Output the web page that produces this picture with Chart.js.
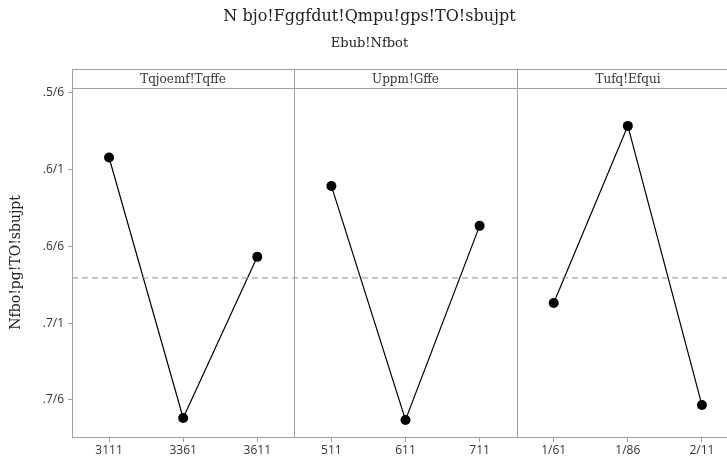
<!DOCTYPE html>
<html>
<head>
<meta charset="utf-8">
<script src="https://cdn.jsdelivr.net/npm/chart.js@4"></script>
<style>
  html, body { margin: 0; padding: 0; overflow: hidden; background: #fff; }
  #wrap { width: 745px; height: 461px; }
</style>
</head>
<body>
<div id="wrap"><canvas id="chart" width="745" height="461"></canvas></div>
<script>
// text exactly as it appears in the picture
const titleText = 'N bjo!Fggfdut!Qmpu!gps!TO!sbujpt';
const subtitleText = 'Ebub!Nfbot';
const yTitleText = 'Nfbo!pg!TO!sbujpt';
const panelNames = ['Tqjoemf!Tqffe', 'Uppm!Gffe', 'Tufq!Efqui'];

// level labels per panel
const spindleLabels = ['3111', '3361', '3611'];
const feedLabels = ['511', '611', '711'];
const depthLabels = ['1/61', '1/86', '2/11'];

// means of SN ratios per level
const spindleMeans = [-4.921, -6.617, -5.568];
const feedMeans = [-5.106, -6.630, -5.366];
const depthMeans = [-5.868, -4.715, -6.533];
const overallMean = -5.705;

const yTickValues = [-4.5, -5.0, -5.5, -6.0, -6.5];
const yTickLabels = ['.5/6', '.6/1', '.6/6', '.7/1', '.7/6'];

const panels = [
    { labels: spindleLabels, means: spindleMeans },
    { labels: feedLabels, means: feedMeans },
    { labels: depthLabels, means: depthMeans },
];

// each panel takes 3 units on the x scale, levels sit at the middle of each unit
const xTicks = [];
const xTickText = {};
panels.forEach((p, i) => p.labels.forEach((lab, j) => {
    xTicks.push(i * 3 + j + 0.5);
    xTickText[i * 3 + j + 0.5] = lab;
}));

const GRAY = '#a0a0a0';
const STRIP = 19;

const panelStrips = {
    id: 'panelStrips',
    afterDraw(chart) {
        const { ctx, chartArea, scales } = chart;
        const xs = scales.x;
        const top = Math.round(chartArea.top) - STRIP;
        const bottom = Math.round(chartArea.bottom);
        ctx.save();
        ctx.strokeStyle = GRAY;
        ctx.lineWidth = 1;
        ctx.font = '12px "DejaVu Serif"';
        ctx.fillStyle = '#333';
        ctx.textAlign = 'center';
        ctx.textBaseline = 'middle';
        panelNames.forEach((name, i) => {
            const l = Math.round(xs.getPixelForValue(i * 3));
            const r = Math.round(xs.getPixelForValue(i * 3 + 3));
            ctx.beginPath();
            ctx.moveTo(l, top + 0.5); ctx.lineTo(r, top + 0.5);
            ctx.moveTo(l, top + STRIP + 0.5); ctx.lineTo(r, top + STRIP + 0.5);
            ctx.moveTo(l + 0.5, top); ctx.lineTo(l + 0.5, bottom);
            ctx.moveTo(r + 0.5, top); ctx.lineTo(r + 0.5, bottom);
            ctx.stroke();
            ctx.fillText(name, (l + r) / 2, top + STRIP / 2 + 1);
        });
        ctx.restore();
    }
};

const datasets = panels.map((p, i) => ({
    data: p.means.map((m, j) => ({ x: i * 3 + j + 0.5, y: m })),
    borderColor: '#000',
    backgroundColor: '#000',
    borderWidth: 1.2,
    pointRadius: 5,
    pointBorderWidth: 0,
    tension: 0,
}));
datasets.unshift({
    data: [{ x: 0, y: overallMean }, { x: 9, y: overallMean }],
    borderColor: '#8c8c8c',
    borderWidth: 1,
    borderDash: [6, 4],
    pointRadius: 0,
});

new Chart(document.getElementById('chart'), {
    type: 'line',
    data: { datasets },
    options: {
        responsive: false,
        animation: false,
        layout: { padding: { right: 6 } },
        plugins: {
            legend: { display: false },
            tooltip: { enabled: false },
            title: {
                display: true,
                text: titleText,
                color: '#222',
                font: { family: 'DejaVu Serif', size: 16, weight: 'normal' },
                padding: { top: 7, bottom: 8 },
            },
            subtitle: {
                display: true,
                text: subtitleText,
                color: '#222',
                font: { family: 'DejaVu Serif', size: 13 },
                padding: { top: 2, bottom: 36 },
            },
        },
        scales: {
            x: {
                type: 'linear',
                min: 0,
                max: 9,
                afterBuildTicks: (s) => { s.ticks = xTicks.map(v => ({ value: v })); },
                afterFit: (s) => { s.height = 24; },
                ticks: {
                    callback: (v) => xTickText[v],
                    color: '#333',
                    font: { family: 'Open Sans', size: 12 },
                    padding: 1,
                    maxRotation: 0,
                },
                grid: { drawOnChartArea: false, tickLength: 5, color: GRAY },
                border: { color: GRAY },
            },
            y: {
                min: -6.741,
                max: -4.467,
                afterBuildTicks: (s) => { s.ticks = yTickValues.map(v => ({ value: v })); },
                afterFit: (s) => { s.width = 72; },
                ticks: {
                    callback: (v) => yTickLabels[yTickValues.indexOf(v)],
                    color: '#333',
                    font: { family: 'Open Sans', size: 12 },
                    padding: 4,
                },
                grid: { drawOnChartArea: false, tickLength: 4, color: GRAY },
                border: { color: GRAY },
                title: {
                    display: true,
                    text: yTitleText,
                    color: '#222',
                    font: { family: 'DejaVu Serif', size: 14 },
                    padding: { top: 8, bottom: 0 },
                },
            },
        },
    },
    plugins: [panelStrips],
});
</script>
</body>
</html>
